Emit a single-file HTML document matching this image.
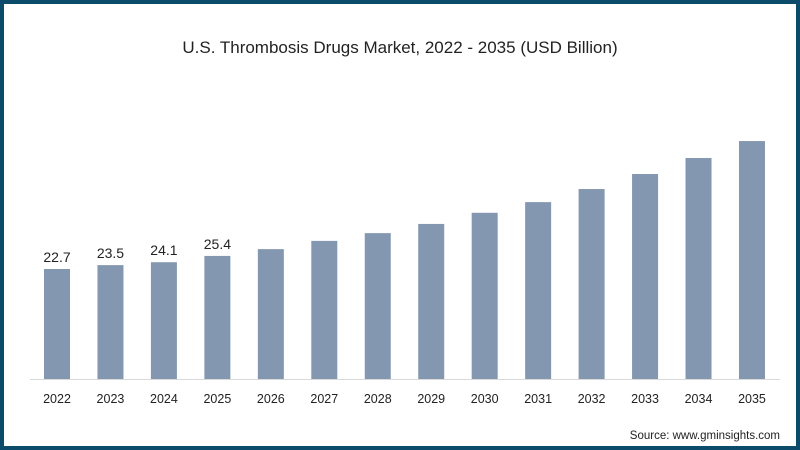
<!DOCTYPE html>
<html><head><meta charset="utf-8"><style>
html,body{margin:0;padding:0;background:#fff}
#frame{position:absolute;left:0;top:0;width:800px;height:450px;box-sizing:border-box;border:4px solid #0d4b6b;background:#fff}
svg{position:absolute;left:0;top:0}
text{font-family:"Liberation Sans",sans-serif}
</style></head><body>
<div id="frame"></div>
<svg width="800" height="450">
<text x="400" y="53" text-anchor="middle" font-size="17" fill="#222">U.S. Thrombosis Drugs Market, 2022 - 2035 (USD Billion)</text>
<line x1="30" y1="379.5" x2="780" y2="379.5" stroke="#d9d9d9"/>
<g id="bars"></g>
<text x="780" y="439" text-anchor="end" font-size="11.5" fill="#222">Source: www.gminsights.com</text>
</svg>
<script>
const categories=["2022","2023","2024","2025","2026","2027","2028","2029","2030","2031","2032","2033","2034","2035"];
const values=[22.7,23.5,24.1,25.4,26.8,28.5,30.1,32.0,34.3,36.5,39.2,42.3,45.6,49.1];
const shownLabels=["22.7","23.5","24.1","25.4","","","","","","","","","",""];
const baseY=379,scale=4.846,x0=57,step=53.46,bw=26;
const yOf=v=>baseY-v*scale, xOf=i=>x0+i*step;
const g=document.getElementById('bars'),NS="http://www.w3.org/2000/svg";
categories.forEach((c,i)=>{
 const r=document.createElementNS(NS,'rect');
 r.setAttribute('x',xOf(i)-bw/2);r.setAttribute('y',yOf(values[i]));
 r.setAttribute('width',bw);r.setAttribute('height',baseY-yOf(values[i]));
 r.setAttribute('fill','#8497b0');
 
 
 g.appendChild(r);
 const t=document.createElementNS(NS,'text');
 t.setAttribute('x',xOf(i));t.setAttribute('y',403);t.setAttribute('text-anchor','middle');
 t.setAttribute('font-size','12.5');t.setAttribute('fill','#222');t.textContent=c;
 
 
 g.appendChild(t);
 if(shownLabels[i]){
  const v=document.createElementNS(NS,'text');
  v.setAttribute('x',xOf(i));v.setAttribute('y',yOf(values[i])-7);v.setAttribute('text-anchor','middle');
  v.setAttribute('font-size','14');v.setAttribute('fill','#222');v.textContent=shownLabels[i];
  
  
  g.appendChild(v);
 }
});
</script>
</body></html>
